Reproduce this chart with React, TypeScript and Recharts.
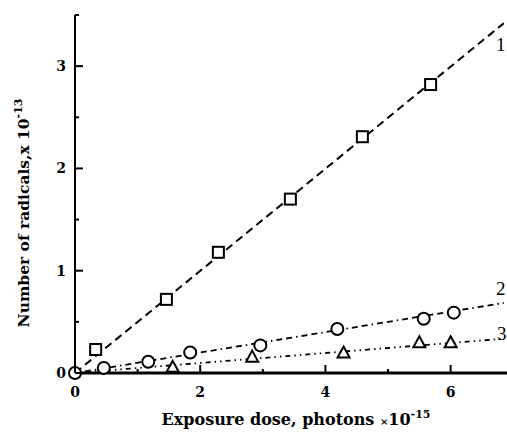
import React from 'react';
import { ComposedChart, Line, Scatter, XAxis, YAxis, LabelList, Label } from 'recharts';

// Curve 1 (squares)
const squareX = [0.33, 1.46, 2.29, 3.44, 4.59, 5.68];
const squareY = [0.23, 0.72, 1.18, 1.7, 2.31, 2.82];
// Curve 2 (circles)
const circleX = [0, 0.46, 1.17, 1.84, 2.96, 4.19, 5.57, 6.05];
const circleY = [0, 0.05, 0.11, 0.2, 0.27, 0.43, 0.53, 0.59];
// Curve 3 (triangles)
const triX = [1.56, 2.83, 4.29, 5.5, 6.0];
const triY = [0.06, 0.16, 0.2, 0.3, 0.3];
// Fitted lines
const fitX = [0, 6.85];
const fit1 = [0, 3.42];
const fit2 = [0, 0.685];
const fit3 = [0, 0.335];
const curveLabels = ['1', '2', '3'];
// Ticks
const xTicks = [0, 1, 2, 3, 4, 5, 6];
const yTicks = [0, 0.5, 1, 1.5, 2, 2.5, 3, 3.5];

const zip = (xs: number[], ys: number[]) => xs.map((x, i) => ({ x, y: ys[i] }));
const squares = zip(squareX, squareY);
const circles = zip(circleX, circleY);
const tris = zip(triX, triY);
const line1 = zip(fitX, fit1);
const line2 = zip(fitX, fit2);
const line3 = zip(fitX, fit3);

const SERIF = '"DejaVu Serif", "Liberation Serif", serif';

const SquareShape = (p: any) => (
  <rect x={p.cx - 5.5} y={p.cy - 5.5} width={11} height={11} fill="#fff" stroke="#000" strokeWidth={2} />
);
const CircleShape = (p: any) => (
  <circle cx={p.cx} cy={p.cy} r={6} fill="#fff" stroke="#000" strokeWidth={2} />
);
const TriShape = (p: any) => (
  <polygon
    points={`${p.cx},${p.cy - 6} ${p.cx + 6},${p.cy + 5} ${p.cx - 6},${p.cy + 5}`}
    fill="#fff"
    stroke="#000"
    strokeWidth={2}
  />
);

const YTick = (p: any) => {
  const v = p.payload.value;
  const major = Number.isInteger(v);
  return (
    <g>
      <line x1={p.x} x2={p.x + (major ? 8 : 4)} y1={p.y} y2={p.y} stroke="#000" strokeWidth={2} />
      {major && (
        <text x={p.x - 9} y={p.y} dy={5} textAnchor="end" fontFamily={SERIF} fontWeight="bold" fontSize={14} fill="#000">
          {v}
        </text>
      )}
    </g>
  );
};

const XTick = (p: any) => {
  const v = p.payload.value;
  const major = v % 2 === 0;
  return (
    <g>
      <line x1={p.x} x2={p.x} y1={p.y} y2={p.y - (major ? 8 : 4)} stroke="#000" strokeWidth={2} />
      {major && (
        <text x={p.x} y={p.y} dy={24} textAnchor="middle" fontFamily={SERIF} fontWeight="bold" fontSize={14} fill="#000">
          {v}
        </text>
      )}
    </g>
  );
};

const makeEndLabel = (idx: number, dx: number, dy: number) => (p: any) => {
  if (p.index !== 1) return null;
  return (
    <text x={p.x + dx} y={p.y + dy} textAnchor="middle" fontFamily='"Liberation Serif", serif' fontSize={19} fill="#000">
      {curveLabels[idx]}
    </text>
  );
};

const XTitle = (p: any) => {
  const vb = p.viewBox;
  return (
    <text x={vb.x + 221} y={vb.y + 52} textAnchor="middle" fontFamily={SERIF} fontWeight="bold" fontSize={16} fill="#000">
      Exposure dose, photons <tspan fontSize={10}>×</tspan>10
      <tspan dy={-7} fontSize={11}>-15</tspan>
    </text>
  );
};

const YTitle = (p: any) => {
  const vb = p.viewBox;
  const cx = vb.x + 29;
  const cy = vb.y + 198;
  return (
    <text transform={`translate(${cx},${cy}) rotate(-90)`} textAnchor="middle" fontFamily={SERIF} fontWeight="bold" fontSize={15.5} fill="#000">
      Number of radicals,x 10
      <tspan dy={-7} fontSize={11}>-13</tspan>
    </text>
  );
};

export default function App() {
  return (
    <div style={{ position: 'absolute', left: 0, top: 0, background: '#fff' }}>
      <ComposedChart width={507} height={439} margin={{ top: 15, right: 0, left: 0, bottom: 0 }}>
        <XAxis
          type="number"
          dataKey="x"
          domain={[0, 6.9]}
          ticks={xTicks}
          interval={0}
          height={66}
          tickSize={0}
          tickMargin={0}
          tickLine={false}
          tick={XTick}
          axisLine={{ stroke: '#000', strokeWidth: 3 }}
        >
          <Label content={XTitle} />
        </XAxis>
        <YAxis
          type="number"
          dataKey="y"
          domain={[0, 3.5]}
          ticks={yTicks}
          interval={0}
          width={75}
          tickSize={0}
          tickMargin={0}
          tickLine={false}
          tick={YTick}
          axisLine={{ stroke: '#000', strokeWidth: 2 }}
        >
          <Label content={YTitle} />
        </YAxis>
        <Line data={line1} dataKey="y" stroke="#000" strokeWidth={2} strokeDasharray="8 5" dot={false} isAnimationActive={false}>
          <LabelList dataKey="y" content={makeEndLabel(0, -3, 28)} />
        </Line>
        <Line data={line2} dataKey="y" stroke="#000" strokeWidth={1.8} strokeDasharray="6 4 6 4 1.5 4" dot={false} isAnimationActive={false}>
          <LabelList dataKey="y" content={makeEndLabel(1, -3, -8)} />
        </Line>
        <Line data={line3} dataKey="y" stroke="#000" strokeWidth={1.8} strokeDasharray="1.5 4 1.5 4 5 4" dot={false} isAnimationActive={false}>
          <LabelList dataKey="y" content={makeEndLabel(2, -2, 1)} />
        </Line>
        <Scatter data={squares} dataKey="y" shape={SquareShape} isAnimationActive={false} />
        <Scatter data={circles} dataKey="y" shape={CircleShape} isAnimationActive={false} />
        <Scatter data={tris} dataKey="y" shape={TriShape} isAnimationActive={false} />
      </ComposedChart>
    </div>
  );
}
